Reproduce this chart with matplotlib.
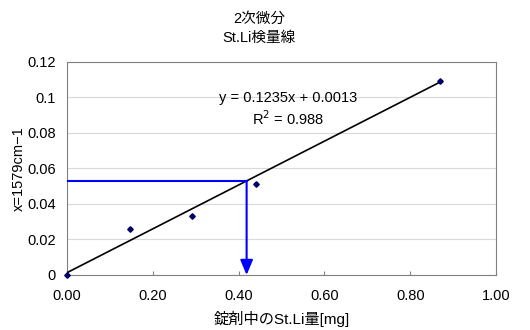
import matplotlib.pyplot as plt

plt.rcParams['font.family'] = ['Liberation Sans', 'Noto Sans CJK JP']

# St.Li amount [mg] vs 2nd derivative value at 1579 cm-1
x_mg = [0.0, 0.146, 0.292, 0.44, 0.87]
y_val = [0.0, 0.026, 0.033, 0.051, 0.1095]

# trend line from the fit printed on the chart
slope = 0.1235
intercept = 0.0013
r2 = 0.988

# sample reading
sample_y = 0.053
sample_x = (sample_y - intercept) / slope

xticks = [0.0, 0.2, 0.4, 0.6, 0.8, 1.0]
yticks = [0, 0.02, 0.04, 0.06, 0.08, 0.1, 0.12]
ytick_labels = ['0', '0.02', '0.04', '0.06', '0.08', '0.1', '0.12']

fig = plt.figure(figsize=(5.3, 3.3), dpi=100)
ax = fig.add_axes([0.1264, 0.1667, 0.8096, 0.6455])

ax.set_xlim(0, 1.0)
ax.set_ylim(0, 0.12)
ax.set_yticks(yticks)
ax.set_yticklabels(ytick_labels)
ax.set_xticks(xticks)
ax.set_xticklabels(['%.2f' % t for t in xticks])
ax.grid(axis='y', color='#d9d9d9', lw=0.8)
ax.set_axisbelow(True)
for s in ax.spines.values():
    s.set_color('#808080')
ax.tick_params(axis='x', direction='in', length=3, color='#808080', labelsize=10.5, pad=10)
ax.tick_params(axis='y', length=0, labelsize=10.5, pad=8)

# trend line
ax.plot([0, max(x_mg)], [intercept, slope * max(x_mg) + intercept], color='black', lw=1.2, zorder=3)
# data points
ax.plot(x_mg, y_val, linestyle='none', marker='D', markersize=2.8, color='#000066', zorder=4, clip_on=False)

# sample reading lines
ax.plot([0, sample_x], [sample_y, sample_y], color='#0000ff', lw=1.5, zorder=5)
ax.annotate('', xy=(sample_x, 0), xytext=(sample_x, sample_y),
            arrowprops=dict(arrowstyle='-|>,head_length=0.9,head_width=0.38',
                            color='#0000ff', lw=1.5, shrinkA=0, shrinkB=0), zorder=5)

ax.text(0.515, 0.83, 'y = %.4fx + %.4f' % (slope, intercept), transform=ax.transAxes,
        ha='center', va='center', fontsize=10.5)
ax.text(0.515, 0.735, 'R$^2$ = %.3f' % r2, transform=ax.transAxes,
        ha='center', va='center', fontsize=10.5)

fig.text(0.489, 0.943, '2次微分', ha='center', va='center', fontsize=10.5)
fig.text(0.489, 0.885, 'St.Li検量線', ha='center', va='center', fontsize=10.5)

ax.set_xlabel('錠剤中のSt.Li量[mg]', fontsize=11, labelpad=6)
ax.set_ylabel('x=1579cm\u22121', fontsize=10.5, labelpad=1)

fig.savefig('out.png', dpi=100)
